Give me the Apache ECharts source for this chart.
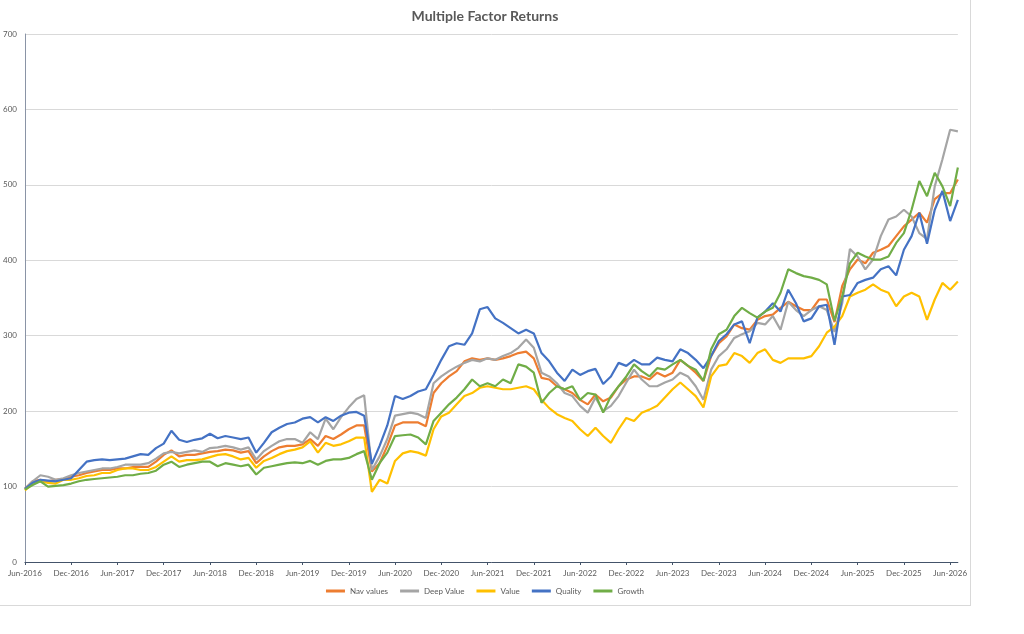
<!DOCTYPE html>
<html>
<head>
<meta charset="utf-8">
<title>Multiple Factor Returns</title>
<script src="https://cdn.jsdelivr.net/npm/echarts@6.0.0/dist/echarts.min.js"></script>
<style>
  html, body { margin: 0; padding: 0; background: #fff; }
  #wrap { position: relative; width: 1024px; height: 634px; }
  #chart { position: absolute; left: 0; top: 0; width: 970px; height: 634px; }
  #frame { position: absolute; left: 0; top: -1px; width: 970px; height: 606px;
           border-right: 1px solid #d9d9d9; border-bottom: 1px solid #d9d9d9; pointer-events: none; }
</style>
</head>
<body>
<div id="wrap">
  <div id="chart"></div>
  <div id="frame"></div>
</div>
<script>
// monthly points, Jun-2016 .. Jul-2026
var startYear = 2016, startMonth = 5, pointCount = 122;
var monthNames = ['Jan', 'Feb', 'Mar', 'Apr', 'May', 'Jun', 'Jul', 'Aug', 'Sep', 'Oct', 'Nov', 'Dec'];
var categories = [];
for (var k = 0; k < pointCount; k++) {
  var m = startMonth + k;
  categories.push(monthNames[m % 12] + '-' + (startYear + Math.floor(m / 12)));
}

var navValues = [
  97, 107, 109, 107, 109, 110, 113, 115, 118, 120, 122, 122,
  124, 124, 126, 126, 126, 133, 142, 148, 140, 142, 142, 144,
  146, 147, 149, 148, 145, 147, 131, 140, 147, 152, 154, 154,
  156, 163, 154, 167, 163, 169, 176, 181, 181, 120, 131, 154,
  181, 185, 185, 185, 180, 224, 237, 246, 253, 266, 270, 268,
  270, 268, 270, 273, 277, 279, 270, 244, 242, 233, 229, 224,
  215, 209, 222, 213, 218, 233, 242, 246, 246, 242, 251, 246,
  251, 268, 260, 251, 240, 273, 290, 299, 315, 310, 308, 321,
  326, 328, 337, 345, 339, 334, 334, 348, 348, 318, 366, 388,
  401, 396, 410, 414, 419, 432, 445, 454, 463, 450, 481, 489,
  489, 507
];
var deepValue = [
  97, 107, 115, 113, 109, 111, 115, 118, 120, 122, 124, 124,
  126, 129, 129, 129, 131, 137, 144, 146, 144, 146, 148, 146,
  151, 152, 154, 152, 149, 152, 136, 147, 154, 160, 163, 163,
  158, 172, 163, 190, 176, 192, 205, 216, 221, 122, 140, 163,
  194, 196, 198, 196, 191, 237, 246, 253, 259, 264, 268, 266,
  270, 268, 273, 277, 284, 295, 284, 251, 246, 237, 224, 220,
  207, 198, 218, 200, 207, 220, 238, 255, 242, 233, 233, 238,
  242, 251, 246, 233, 215, 255, 273, 282, 297, 302, 306, 317,
  315, 326, 308, 345, 334, 326, 334, 339, 334, 305, 343, 415,
  405, 388, 401, 432, 454, 458, 467, 458, 436, 428, 498, 534,
  573, 571
];
var valueFactor = [
  95, 104, 107, 105, 104, 109, 109, 111, 114, 115, 118, 118,
  122, 124, 124, 122, 122, 126, 133, 140, 133, 135, 135, 136,
  139, 142, 143, 140, 136, 138, 125, 134, 138, 143, 147, 149,
  152, 160, 145, 158, 154, 156, 160, 165, 165, 93, 109, 104,
  134, 144, 147, 145, 141, 176, 193, 198, 209, 220, 224, 231,
  233, 231, 229, 229, 231, 233, 229, 215, 204, 196, 191, 187,
  176, 167, 178, 167, 158, 176, 191, 187, 198, 202, 207, 218,
  229, 238, 229, 220, 205, 246, 260, 262, 277, 273, 264, 277,
  282, 268, 264, 270, 270, 270, 273, 286, 304, 312, 326, 352,
  357, 361, 368, 361, 357, 339, 352, 357, 352, 321, 348, 370,
  361, 372
];
var quality = [
  97, 105, 109, 108, 107, 109, 111, 122, 133, 135, 136, 135,
  136, 137, 140, 143, 142, 151, 157, 174, 162, 159, 162, 164,
  170, 164, 167, 165, 163, 165, 145, 158, 172, 178, 183, 185,
  190, 192, 185, 192, 187, 194, 198, 199, 194, 130, 154, 181,
  220, 216, 220, 226, 229, 248, 268, 286, 290, 288, 303, 335,
  338, 323, 317, 310, 303, 308, 303, 277, 266, 251, 240, 255,
  248, 253, 256, 236, 246, 264, 260, 268, 262, 262, 271, 268,
  266, 282, 277, 268, 257, 273, 293, 302, 315, 319, 290, 324,
  332, 343, 332, 361, 343, 319, 323, 339, 341, 288, 352, 354,
  370, 374, 377, 388, 392, 380, 414, 432, 463, 422, 467, 492,
  452, 480
];
var growth = [
  96, 102, 107, 100, 101, 102, 104, 107, 109, 110, 111, 112,
  113, 115, 115, 117, 118, 121, 129, 133, 126, 129, 131, 133,
  133, 127, 131, 129, 127, 129, 116, 125, 127, 129, 131, 132,
  131, 134, 129, 134, 136, 136, 138, 143, 147, 109, 131, 145,
  167, 168, 169, 165, 156, 187, 198, 209, 218, 229, 242, 233,
  237, 233, 242, 237, 262, 259, 251, 211, 224, 233, 229, 233,
  215, 224, 222, 198, 220, 233, 246, 262, 253, 246, 257, 255,
  262, 268, 260, 255, 240, 282, 302, 308, 326, 337, 330, 324,
  332, 337, 357, 388, 383, 379, 377, 374, 368, 320, 352, 396,
  410, 405, 401, 401, 405, 423, 436, 467, 505, 485, 516, 498,
  472, 523
];

var seriesNames = ['Nav values', 'Deep Value', 'Value', 'Quality', 'Growth'];
var seriesColors = ['#ED7D31', '#A5A5A5', '#FFC000', '#4472C4', '#70AD47'];
var seriesData = [navValues, deepValue, valueFactor, quality, growth];

var font = 'Lato, "Open Sans", sans-serif';
var chart = echarts.init(document.getElementById('chart'), null, { renderer: 'canvas' });

var option = {
  animation: false,
  color: seriesColors,
  title: {
    text: 'Multiple Factor Returns',
    left: 'center',
    top: 4,
    textStyle: { fontFamily: font, fontSize: 14, fontWeight: 'bold', color: '#595959' }
  },
  legend: {
    data: seriesNames,
    bottom: 34,
    left: 'center',
    icon: 'rect',
    itemWidth: 19,
    itemHeight: 3,
    itemGap: 12,
    textStyle: { fontFamily: font, fontSize: 8, color: '#595959' }
  },
  grid: { left: 23, right: 9, top: 34, bottom: 72, containLabel: false },
  xAxis: {
    type: 'category',
    data: categories,
    boundaryGap: false,
    axisLine: { lineStyle: { color: '#44546A', width: 1 } },
    axisTick: { show: true, interval: 5, length: 3, lineStyle: { color: '#44546A' } },
    axisLabel: { interval: 5, fontFamily: font, fontSize: 8, color: '#595959', margin: 7 },
    splitLine: { show: false }
  },
  yAxis: {
    type: 'value',
    min: 0,
    max: 700,
    interval: 100,
    axisLine: { show: true, lineStyle: { color: '#8A94A6', width: 1 } },
    axisTick: { show: false },
    axisLabel: { fontFamily: font, fontSize: 8, color: '#595959', margin: 8 },
    splitLine: { lineStyle: { color: '#D9D9D9', width: 1 } }
  },
  series: seriesNames.map(function (name, idx) {
    return {
      name: name,
      type: 'line',
      data: seriesData[idx],
      showSymbol: false,
      lineStyle: { width: 2.2, color: seriesColors[idx] },
      itemStyle: { color: seriesColors[idx] }
    };
  })
};
chart.setOption(option);
</script>
</body>
</html>
